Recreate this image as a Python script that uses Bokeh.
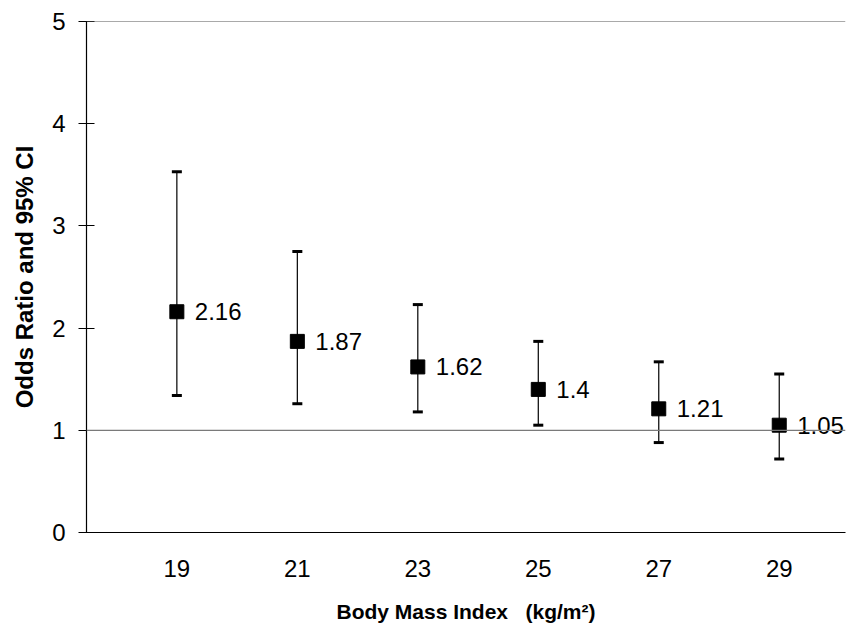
from bokeh.plotting import figure
from bokeh.models import Range1d, FixedTicker, Span, ColumnDataSource
from bokeh.core.properties import value
from bokeh.embed import file_html
from bokeh.resources import INLINE

bmi = [19, 21, 23, 25, 27, 29]
odds = [2.16, 1.87, 1.62, 1.40, 1.21, 1.05]
lower = [1.34, 1.26, 1.18, 1.05, 0.88, 0.72]
upper = [3.53, 2.75, 2.23, 1.87, 1.67, 1.55]
labels = ["2.16", "1.87", "1.62", "1.4", "1.21", "1.05"]
y_ticks = [0, 1, 2, 3, 4, 5]

FONT = "Liberation Sans"

src = ColumnDataSource(dict(x=bmi, y=odds, lo=lower, hi=upper, lab=labels))

p = figure(width=858, height=636, output_backend="svg", toolbar_location=None,
           x_range=Range1d(17.5, 30.1), y_range=Range1d(0, 5),
           min_border_left=86, min_border_right=13, min_border_top=21, min_border_bottom=104)
p.outline_line_color = None
p.xgrid.grid_line_color = None
p.ygrid.grid_line_color = None
p.background_fill_color = "white"
p.border_fill_color = "white"

# reference lines
p.add_layout(Span(location=1, dimension="width", line_color="#7a7a7a", line_width=1.2))
p.add_layout(Span(location=5, dimension="width", line_color="#555555", line_width=1.2))

# error bars
p.segment(x0="x", y0="lo", x1="x", y1="hi", source=src, line_color="black", line_width=1.2)
p.scatter(x="x", y="lo", source=src, marker="dash", size=10, line_width=3, line_color="black")
p.scatter(x="x", y="hi", source=src, marker="dash", size=10, line_width=3, line_color="black")
p.scatter(x="x", y="y", source=src, marker="square", size=14, fill_color="black", line_color="black")
p.text(x="x", y="y", text="lab", source=src, x_offset=18, text_baseline="middle", text_align="left",
       text_font=value(FONT), text_font_size="24px", text_color="black")

# x axis
xa = p.xaxis[0]
xa.ticker = FixedTicker(ticks=bmi)
xa.major_tick_out = 0
xa.major_tick_in = 0
xa.minor_tick_line_color = None
xa.axis_line_color = "black"
xa.axis_line_width = 1.2
xa.major_label_standoff = 27
xa.major_label_text_font = FONT
xa.major_label_text_font_size = "24px"
xa.major_label_text_color = "black"
xa.axis_label = "Body Mass Index\u00a0\u00a0 (kg/m²)"
xa.axis_label_text_font = FONT
xa.axis_label_text_font_size = "21px"
xa.axis_label_text_font_style = "bold"
xa.axis_label_text_color = "black"
xa.axis_label_standoff = 20

# y axis
ya = p.yaxis[0]
ya.ticker = FixedTicker(ticks=y_ticks)
ya.major_tick_out = 8
ya.major_tick_in = 8
ya.minor_tick_line_color = None
ya.axis_line_color = "black"
ya.axis_line_width = 1.2
ya.major_label_standoff = 13
ya.major_label_text_font = FONT
ya.major_label_text_font_size = "24px"
ya.major_label_text_color = "black"
ya.axis_label = "Odds Ratio and 95% CI"
ya.axis_label_text_font = FONT
ya.axis_label_text_font_size = "24px"
ya.axis_label_text_font_style = "bold"
ya.axis_label_text_color = "black"
ya.axis_label_standoff = 11

open("out.html", "w").write(file_html(p, INLINE))
